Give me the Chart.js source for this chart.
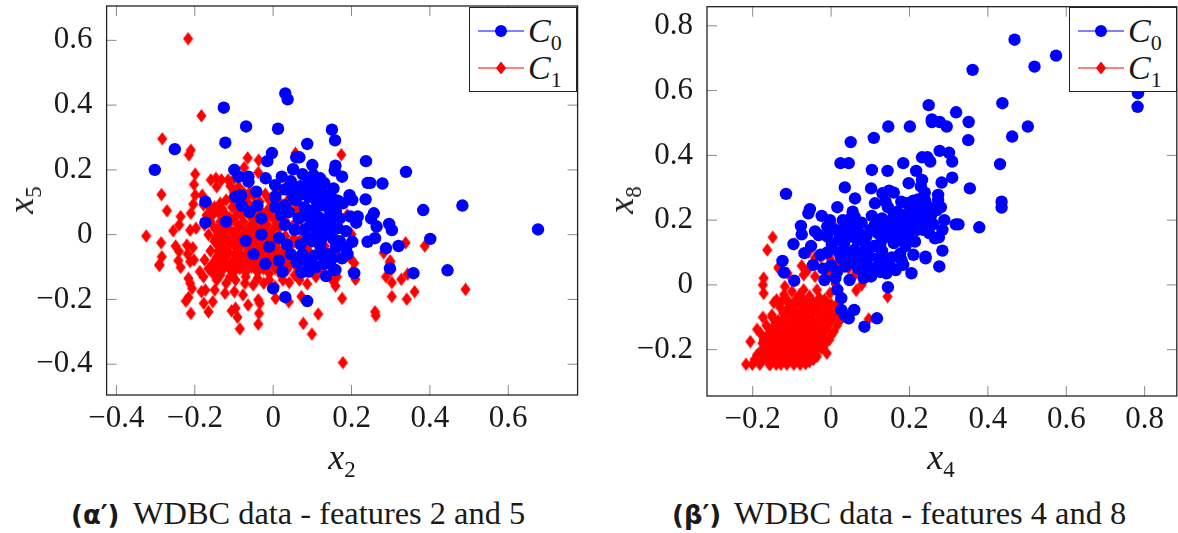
<!DOCTYPE html>
<html>
<head>
<meta charset="utf-8">
<title>WDBC scatter</title>
<script src="https://cdn.jsdelivr.net/npm/chart.js@4/dist/chart.umd.min.js"></script>
<style>
html, body { margin: 0; padding: 0; background: #fff; }
body { width: 1178px; height: 533px; position: relative; overflow: hidden; font-family: "Liberation Serif", serif; color: #1a1a1a; }
canvas { position: absolute; top: 0; }
#chartA { left: 0; }
#chartB { left: 590px; }
.axis-label { position: absolute; font-size: 36px; line-height: 36px; white-space: nowrap; }
.axis-label sub { font-size: 23px; line-height: 0; font-style: normal; }
.rot { transform: translate(-50%, -50%) rotate(-90deg); }
.hor { transform: translate(-50%, -50%); }
.legend { position: absolute; top: 7px; width: 108px; height: 85px; background: #fff; border: 1.3px solid #222; box-sizing: border-box; }
.legend .row { position: absolute; left: 0; height: 37px; font-size: 34px; line-height: 37px; white-space: nowrap; }
.legend svg { position: absolute; left: 8px; top: 0; }
.legend span { position: absolute; left: 58px; top: 0; }
.legend sub { font-size: 22px; line-height: 0; }
.caption { position: absolute; top: 497px; font-size: 32.4px; line-height: 32px; white-space: nowrap; }
.caption b { font-family: "DejaVu Sans", sans-serif; font-size: 26px; display: inline-block; width: 62px; }
</style>
</head>
<body>
<canvas id="chartA" width="590" height="445"></canvas>
<canvas id="chartB" width="588" height="445"></canvas>

<div class="axis-label rot" style="left:21px;top:200px"><i>x</i><sub>5</sub></div>
<div class="axis-label hor" style="left:342px;top:457px"><i>x</i><sub>2</sub></div>
<div class="axis-label rot" style="left:621px;top:200px"><i>x</i><sub>8</sub></div>
<div class="axis-label hor" style="left:941px;top:457px"><i>x</i><sub>4</sub></div>

<div class="legend" style="left:469px">
  <div class="row" style="top:4px"><svg width="46" height="37"><line x1="0" y1="19" x2="46" y2="19" stroke="#0000ff" stroke-width="1"/><circle cx="23" cy="19" r="6" fill="#0000ff"/></svg><span><i>C</i><sub>0</sub></span></div>
  <div class="row" style="top:41px"><svg width="46" height="37"><line x1="0" y1="19" x2="46" y2="19" stroke="#ff0000" stroke-width="1"/><polygon points="23,12.5 28,19 23,25.5 18,19" fill="#ff0000"/></svg><span><i>C</i><sub>1</sub></span></div>
</div>
<div class="legend" style="left:1069px">
  <div class="row" style="top:4px"><svg width="46" height="37"><line x1="0" y1="19" x2="46" y2="19" stroke="#0000ff" stroke-width="1"/><circle cx="23" cy="19" r="6" fill="#0000ff"/></svg><span><i>C</i><sub>0</sub></span></div>
  <div class="row" style="top:41px"><svg width="46" height="37"><line x1="0" y1="19" x2="46" y2="19" stroke="#ff0000" stroke-width="1"/><polygon points="23,12.5 28,19 23,25.5 18,19" fill="#ff0000"/></svg><span><i>C</i><sub>1</sub></span></div>
</div>

<div class="caption" style="left:71px"><b>(α′)</b>WDBC data - features 2 and 5</div>
<div class="caption" style="left:672px"><b>(β′)</b>WDBC data - features 4 and 8</div>

<script>
// Tick values for both panels
const ticksX2 = [-0.4, -0.2, 0, 0.2, 0.4, 0.6];
const ticksX5 = [-0.4, -0.2, 0, 0.2, 0.4, 0.6];
const ticksX4 = [-0.2, 0, 0.2, 0.4, 0.6, 0.8];
const ticksX8 = [-0.2, 0, 0.2, 0.4, 0.6, 0.8];

// Left panel, [x2, x5]
const c0Left = [
[-.302,.2],[-.251,.264],[-.126,.392],[-.122,.284],[-.069,.334],[.0125,.327],[.031,.436],[.037,.418],[.15,.324],[.158,.291],
[.087,.28],[-.003,.252],[-.015,.227],[.067,.239],[.059,.239],[.1,.215],[.051,.202],[-.099,.2],[.237,.227],[.339,.194],
[.159,.213],[.157,.198],[.176,.179],[.248,.16],[.241,.16],[.279,.158],[.383,.076],[.483,.09],[.676,.016],[.236,.109],
[.195,.122],[.202,.107],[.178,.097],[.154,.143],[.154,.109],[.12,.174],[.103,.184],[.075,.187],[.022,.179],[.005,.153],
[-.019,.174],[-.063,.179],[-.063,.164],[-.088,.179],[.125,.133],[.091,.117],[.109,.107],[.058,.107],[.005,.117],[-.043,.133],
[-.082,.122],[-.096,.117],[-.173,.102],[-.173,.037],[-.12,.04],[.216,.056],[.25,.05],[.257,.066],[.296,.033],[.303,.014],
[.264,.025],[.212,.037],[.197,.056],[.146,.066],[.144,.035],[.135,.009],[.186,.011],[.202,-.022],[.186,-.042],[.176,-.073],
[.241,-.022],[.26,-.011],[.288,-.042],[.32,-.035],[.401,-.013],[.154,-.014],[.13,-.088],[.159,-.109],[-.07,-.019],[-.01,-.037],
[.445,-.11],[.358,-.119],[.298,-.104],[.207,-.119],[.132,-.09],[.156,-.109],[.135,-.128],[0,-.166],[.031,-.193],[.087,-.205],
[.072,-.117],[.091,-.114],[.024,-.114],[.09,.16],[.07,.15],[.045,.165],[.03,.14],[.11,.15],[.13,.16],[.075,.125],
[.05,.12],[.12,.09],[.14,.085],[.1,.075],[.08,.085],[.16,.07],[.17,.05],[.13,.045],[.115,.055],[.095,.03],
[.065,.05],[.04,.07],[.02,.06],[.055,.015],[.03,.03],[.11,.015],[.09,-.01],[.07,-.03],[.12,-.035],[.14,-.06],
[.105,-.065],[.045,-.06],[.06,-.085],[.085,-.085],[.11,-.1],[.17,-.02],[.19,-.06],[.165,.02],[-.04,.09],[-.06,.07],
[-.03,.05],[-.08,.09],[.03,.09],[.005,.085],[-.05,-.06],[-.02,-.09],[.015,-.08],[.035,-.03],[.015,-.01],[-.03,.0],
[.14,.12],[.165,.105],[.13,.105],[.15,.09],[.1,.13],[.085,.14],[.115,.125],[.06,.14],[.16,.04],[.15,.02],
[.125,.02],[.125,-.01],[.16,-.04],[.15,-.075],[.125,-.065],[.1,.04],[.08,.06],[.08,.015],[.1,-.02],[.075,-.06]
];
const c1Left = [
[-.217,.605],[-.183,.367],[-.283,.296],[-.21,.261],[-.215,.246],[.057,.251],[-.065,.237],[-.074,.207],[-.037,.23],[-.038,.192],
[.174,.247],[.05,.156],[.03,.143],[.057,.126],[-.199,.187],[-.202,.155],[-.199,.122],[-.285,.124],[-.271,.074],[-.181,.122],
[-.204,.094],[-.21,.066],[-.236,.056],[-.24,.03],[-.255,.012],[-.324,-.004],[-.286,-.025],[-.249,-.035],[-.284,-.068],[-.24,-.052],
[-.212,.014],[-.197,.02],[-.22,-.032],[-.205,-.04],[-.218,-.06],[-.202,-.078],[-.175,-.078],[-.242,-.08],[-.291,-.094],[-.159,.169],
[-.146,.174],[-.132,.169],[-.115,.169],[-.099,.174],[-.144,.148],[-.109,.15],[-.088,.148],[-.178,.092],[-.135,.097],[-.12,.107],
[-.106,.112],[-.067,.117],[-.063,.097],[-.034,.102],[-.01,.107],[.019,.097],[.038,.107],[.058,.074],[.082,.074],[.072,.047],
[.096,.045],[.128,.047],[.109,.033],[.189,.061],[.048,.025],[.072,.014],[.106,-.006],[.031,-.004],[.053,-.011],[.089,-.035],
[.132,-.035],[.157,-.032],[.2,.001],[.267,.025],[.338,-.025],[.387,-.035],[.282,-.056],[.299,-.081],[.162,-.063],[.195,-.07],
[.207,-.088],[.298,-.086],[.301,-.109],[.288,-.13],[.303,-.148],[.327,-.138],[.343,-.122],[.303,-.191],[.361,-.176],[.341,-.199],
[.491,-.169],[.176,-.197],[.26,-.238],[.262,-.25],[.115,-.245],[.077,-.274],[.099,-.307],[.178,-.395],[.154,-.145],[.159,-.158],
[.163,-.13],[.202,-.114],[.21,-.138],[.006,-.197],[.04,-.207],[.072,-.191],[.041,-.148],[.067,-.14],[.087,-.152],[.109,-.13],
[-.038,-.276],[-.085,-.291],[-.091,-.255],[-.036,-.243],[-.106,-.235],[-.096,-.227],[-.064,-.217],[-.165,-.238],[-.21,-.243],[-.177,-.212],
[-.154,-.207],[-.223,-.205],[-.216,-.194],[-.038,-.201],[-.034,-.212],[-.077,-.186],[-.099,-.176],[-.123,-.181],[-.149,-.171],[-.183,-.176],
[-.173,-.171],[-.207,-.166],[-.216,-.135],[-.212,-.15],[-.29,-.094],[-.236,-.101],[-.212,-.083],[-.187,-.114],[-.178,-.13],[-.154,-.119],
[-.144,-.14],[-.12,-.15],[-.096,-.14],[-.072,-.15],[-.051,-.155],[-.024,-.15],[.005,-.16],[-.17,.06],[-.16,.04],[-.15,.02],
[-.165,.0],[-.15,-.02],[-.16,-.05],[-.145,-.07],[-.13,.08],[-.12,.06],[-.105,.085],[-.09,.07],[-.075,.09],[-.06,.06],
[-.045,.08],[-.03,.07],[-.015,.075],[0,.05],[.015,.06],[.03,.045],[-.135,.04],[-.12,.025],[-.105,.045],[-.09,.03],
[-.075,.04],[-.06,.025],[-.045,.035],[-.03,.02],[-.015,.03],[0,.015],[.015,.02],[-.135,.0],[-.12,-.01],[-.105,.005],
[-.09,-.005],[-.075,.005],[-.06,-.01],[-.045,.0],[-.03,-.015],[-.015,-.005],[0,-.02],[.015,-.015],[-.14,-.035],[-.125,-.045],
[-.11,-.03],[-.095,-.04],[-.08,-.03],[-.065,-.045],[-.05,-.03],[-.035,-.045],[-.02,-.035],[-.005,-.05],[.01,-.04],[.025,-.055],
[-.135,-.08],[-.12,-.07],[-.105,-.085],[-.09,-.07],[-.075,-.08],[-.06,-.07],[-.045,-.085],[-.03,-.07],[-.015,-.08],[0,-.07],
[.015,-.09],[.03,-.08],[.045,-.09],[-.13,-.11],[-.115,-.1],[-.1,-.115],[-.085,-.105],[-.07,-.115],[-.055,-.1],[-.04,-.115],
[-.025,-.105],[-.01,-.12],[.005,-.105],[.02,-.125],[.035,-.11],[.06,-.1],[.08,-.075],[.1,-.095],[.12,-.11],[.07,-.06],
[-.127,.068],[-.112,.052],[-.097,.055],[-.082,.06],[-.067,.072],[-.052,.05],[-.037,.055],[-.022,.045],[-.007,.06],[.008,.035],
[-.142,.018],[-.127,.012],[-.112,.018],[-.097,.012],[-.082,.015],[-.067,.012],[-.052,.015],[-.037,.008],[-.022,.012],[-.007,-.002],
[-.147,-.012],[-.132,-.02],[-.117,-.018],[-.102,-.022],[-.087,-.02],[-.072,-.022],[-.057,-.025],[-.042,-.025],[-.027,-.03],[-.012,-.025],
[.004,-.03],[-.128,-.06],[-.113,-.055],[-.098,-.06],[-.083,-.058],[-.068,-.062],[-.053,-.055],[-.038,-.06],[-.023,-.055],[-.008,-.062],
[.008,-.058],[-.122,-.092],[-.107,-.1],[-.092,-.09],[-.077,-.095],[-.062,-.088],[-.047,-.1],[-.032,-.09],[-.017,-.098],[-.002,-.09],
[.012,-.105],[.028,-.095],[.05,-.075],[.055,-.125],[.025,-.14],[-.01,-.14],[-.04,-.135],[-.07,-.13],[-.11,-.13],[-.135,-.125],
[.04,.09],[.06,.095],[.035,.07],[.1,.05],[.085,-.01],[.07,-.015],[.12,-.02],[.09,-.05],[.045,-.035],[.06,.04],
[-.168,.1],[-.162,.085],[-.175,.03],[-.165,.045],[-.118,.045],[-.125,.03],[-.1,.13],[-.09,.11],[-.075,.13],[-.06,.13],
[-.05,.12],[-.04,.13],[-.02,.125],[.0,.12],[.015,.13],[-.06,.16],[-.072,-.018],[-.062,-.025],[-.012,-.04],[-.005,-.032],
[-.095,.095],[-.14,.07],[-.15,.085],[-.155,.06],[-.14,-.05],[-.155,-.09],[-.145,-.1],[-.165,-.105]
];

// Right panel, [x4, x8]
const c0Right = [
[.468,.757],[.574,.708],[.519,.674],[.361,.664],[.783,.592],[.782,.55],[.437,.561],[.502,.489],[.462,.458],[.249,.555],
[.257,.511],[.257,.503],[.319,.533],[.351,.503],[.277,.503],[.295,.489],[.146,.489],[.201,.489],[.109,.454],[.05,.441],
[.35,.447],[.431,.373],[.435,.257],[.435,.239],[.354,.298],[.378,.178],[.309,.331],[.282,.316],[.309,.381],[.301,.408],
[.277,.414],[.253,.381],[.246,.394],[.232,.394],[.184,.376],[.144,.352],[.104,.355],[.024,.376],[.045,.376],[.035,.301],
[.102,.298],[.061,.267],[-.115,.281],[.217,.352],[.232,.324],[.198,.314],[.229,.304],[.239,.285],[.148,.291],[.131,.283],
[.16,.285],[.112,.252],[.139,.257],[.179,.257],[.193,.252],[.222,.264],[.273,.278],[.273,.262],[.246,.237],[.27,.231],
[.169,.226],[.104,.213],[.055,.226],[.016,.24],[-.054,.234],[-.058,.221],[-.024,.213],[-.003,.2],[.318,.187],[.325,.187],
[.289,.2],[.284,.17],[.265,.144],[.275,.147],[.284,.106],[.241,.087],[.21,.093],[.176,.096],[.276,.057],[.144,.195],
[.174,.2],[.198,.192],[.217,.19],[.241,.192],[.26,.188],[.112,.185],[.12,.159],[.141,.149],[.169,.159],[.198,.149],
[.214,.134],[.126,.129],[.16,.129],[.064,.185],[.035,.18],[.078,.192],[.069,.165],[.066,.139],[.033,.129],[.059,.108],
[.064,.087],[.002,.123],[-.077,.182],[-.075,.156],[-.041,.165],[-.032,.154],[-.051,.12],[-.096,.126],[-.068,.098],[-.027,.093],
[-.124,.074],[.098,.087],[.122,.085],[.141,.072],[.026,.082],[.035,.057],[.093,.057],[.069,.051],[.107,.051],[.141,.036],
[.165,.046],[.184,.062],[.205,.036],[.241,.082],[.102,.026],[.083,.021],[.047,.015],[.145,-.007],[.059,-.077],[.117,-.103],
[.085,-.129],[.045,-.103],[.026,-.041],[.016,-.015],[.011,.021],[-.017,.015],[-.046,.062],[-.094,.013],[-.12,.038],[.026,-.077],
[.035,-.093],[.2,.22],[.215,.235],[.235,.24],[.255,.215],[.225,.205],[.185,.215],[.15,.17],[.18,.17],[.13,.205],
[.05,.205],[.03,.2],[.01,.17],[-.01,.15],[-.02,.05],[.0,.06],[.015,.04],[.19,.12],[.13,.105],[.09,.15],
[.15,.06],[.12,.06],[.075,.075],[.05,.07],[.02,.1],[-.01,.1],[.03,.16],[.05,.15],[.24,.26],[.21,.26],
[.19,.19],[.23,.22],[.2,.17],[.155,.145],[.17,.14],[.25,.24],[.28,.24],[.16,.22],[.145,.24],[.06,.21],
[.09,.11],[.11,.12],[.085,.13],[.1,.17],[.08,.1],[.05,.09],[.08,.04],[.125,.04],[.155,.085],[.18,.075],
[.04,.1],[.02,.14],[.045,.16],[-.01,.18],[.19,.165],[.22,.17],[.235,.17],[.25,.16],[.16,.19],[.125,.18]
];
const c1Right = [
[.008,.181],[-.149,.147],[-.163,.108],[-.094,.126],[-.01,.144],[-.057,.103],[0,.11],[-.041,.084],[-.026,.085],[-.003,.082],
[.04,.067],[-.075,.059],[-.134,.051],[.011,.062],[.045,.051],[-.134,.055],[-.111,.036],[-.07,.031],[-.041,.026],[-.06,.046],
[-.003,.036],[.011,.003],[.057,.026],[.078,0],[.064,-.017],[.144,-.036],[.096,-.105],[-.172,.021],[-.174,0],[-.172,-.026],
[-.146,-.055],[-.139,-.046],[-.118,-.005],[-.07,-.015],[-.036,-.015],[-.003,-.026],[.016,-.057],[-.017,-.046],[.024,-.108],[.007,-.144],
[-.011,-.211],[-.036,-.221],[-.055,-.237],[-.079,-.245],[-.113,-.245],[-.128,-.245],[-.158,-.245],[-.182,-.245],[-.201,-.245],[-.217,-.245],
[-.206,-.175],[-.189,-.137],[-.174,-.1],[-.189,-.216],[-.151,-.093],[-.12,-.03],[-.11,-.05],[-.1,-.02],[-.09,-.045],[-.08,-.03],
[-.07,-.05],[-.055,-.035],[-.045,-.055],[-.03,-.04],[-.015,-.07],[0,-.06],[.012,-.08],[-.13,-.07],[-.115,-.08],[-.1,-.07],
[-.085,-.085],[-.07,-.075],[-.055,-.085],[-.04,-.075],[-.025,-.09],[-.01,-.085],[.005,-.1],[.02,-.09],[-.15,-.1],[-.135,-.11],
[-.12,-.1],[-.105,-.115],[-.09,-.1],[-.075,-.11],[-.06,-.1],[-.045,-.115],[-.03,-.105],[-.015,-.12],[0,-.11],[.015,-.125],
[-.165,-.125],[-.15,-.135],[-.135,-.13],[-.12,-.14],[-.105,-.13],[-.09,-.14],[-.075,-.13],[-.06,-.145],[-.045,-.135],[-.03,-.15],
[-.015,-.14],[.0,-.155],[-.18,-.15],[-.165,-.16],[-.15,-.155],[-.135,-.165],[-.12,-.155],[-.105,-.17],[-.09,-.16],[-.075,-.17],
[-.06,-.16],[-.045,-.175],[-.03,-.165],[-.015,-.18],[-.005,-.17],[-.175,-.18],[-.16,-.19],[-.145,-.18],[-.13,-.195],[-.115,-.185],
[-.1,-.195],[-.085,-.185],[-.07,-.2],[-.055,-.19],[-.04,-.205],[-.025,-.195],[-.18,-.205],[-.165,-.215],[-.15,-.21],[-.135,-.22],
[-.12,-.21],[-.105,-.225],[-.09,-.215],[-.075,-.225],[-.06,-.215],[-.045,-.23],[-.145,-.235],[-.125,-.235],[-.09,-.235],[-.065,-.235],
[-.127,-.052],[-.107,-.06],[-.092,-.058],[-.077,-.06],[-.062,-.062],[-.047,-.068],[-.032,-.06],[-.012,-.055],[-.122,-.088],[-.107,-.09],
[-.092,-.088],[-.077,-.092],[-.062,-.09],[-.047,-.092],[-.032,-.085],[-.017,-.1],[-.002,-.09],[-.142,-.118],[-.127,-.12],[-.112,-.125],
[-.097,-.118],[-.082,-.122],[-.067,-.12],[-.052,-.125],[-.037,-.125],[-.022,-.13],[-.007,-.125],[-.157,-.148],[-.142,-.148],[-.127,-.148],
[-.112,-.15],[-.097,-.15],[-.082,-.15],[-.067,-.155],[-.052,-.155],[-.037,-.158],[-.022,-.16],[-.172,-.17],[-.157,-.172],[-.142,-.168],
[-.127,-.175],[-.112,-.172],[-.097,-.178],[-.082,-.175],[-.067,-.18],[-.052,-.178],[-.037,-.185],[-.02,-.19],[-.17,-.2],[-.152,-.195],
[-.137,-.2],[-.122,-.2],[-.107,-.205],[-.092,-.2],[-.077,-.208],[-.062,-.205],[-.047,-.21],[-.16,-.23],[-.13,-.225],[-.115,-.228],
[-.1,-.23],[-.082,-.235],[-.052,-.225],[-.195,-.23],[-.175,-.232],[-.155,-.245],[-.14,-.245],[-.095,-.245],[-.065,-.243],[-.04,-.215]
];

function makeDiamond() {
    const c = document.createElement('canvas');
    c.width = 11;
    c.height = 14;
    const g = c.getContext('2d');
    g.fillStyle = '#ff0000';
    g.beginPath();
    g.moveTo(5.5, 0.3);
    g.lineTo(10.6, 7);
    g.lineTo(5.5, 13.7);
    g.lineTo(0.4, 7);
    g.closePath();
    g.fill();
    return c;
}

// pgfplots style box with short ticks pointing inward on all four sides
const boxPlugin = {
    id: 'box',
    afterDraw(chart) {
        const { ctx, chartArea: a, scales } = chart;
        ctx.save();
        ctx.strokeStyle = '#8a8a8a';
        ctx.lineWidth = 1;
        ctx.beginPath();
        scales.x.ticks.forEach(t => {
            const px = scales.x.getPixelForValue(t.value);
            ctx.moveTo(px, a.bottom);
            ctx.lineTo(px, a.bottom - 10);
            ctx.moveTo(px, a.top);
            ctx.lineTo(px, a.top + 10);
        });
        scales.y.ticks.forEach(t => {
            const py = scales.y.getPixelForValue(t.value);
            ctx.moveTo(a.left, py);
            ctx.lineTo(a.left + 10, py);
            ctx.moveTo(a.right, py);
            ctx.lineTo(a.right - 10, py);
        });
        ctx.stroke();
        ctx.strokeStyle = '#222';
        ctx.lineWidth = 1.3;
        ctx.strokeRect(a.left, a.top, a.right - a.left, a.bottom - a.top);
        ctx.restore();
    }
};

function tickText(v) {
    if (v === 0) return '0';
    return (v < 0 ? '\u2212' : '') + Math.abs(v).toFixed(1);
}

function scaleOpts(min, max, values, pad, fitFn) {
    return {
        type: 'linear',
        min: min,
        max: max,
        afterBuildTicks: (s) => { s.ticks = values.map(v => ({ value: v })); },
        afterFit: (s) => {
            fitFn(s);
            // tick label overhang must not push the plot area around
            s.paddingTop = 0;
            s.paddingBottom = 0;
            s.paddingLeft = 0;
            s.paddingRight = 0;
        },
        grid: { display: false },
        border: { display: false },
        ticks: {
            color: '#1a1a1a',
            padding: pad,
            maxRotation: 0,
            autoSkip: false,
            font: { family: 'Liberation Serif', size: 31 },
            callback: (v) => tickText(v)
        }
    };
}

function makeChart(id, c0, c1, opt) {
    return new Chart(document.getElementById(id), {
        type: 'scatter',
        data: {
            datasets: [{
                label: 'C0',
                data: c0.map(p => ({ x: p[0], y: p[1] })),
                backgroundColor: '#0000ff',
                pointStyle: 'circle',
                pointRadius: 6.2,
                pointBorderWidth: 0
            }, {
                label: 'C1',
                data: c1.map(p => ({ x: p[0], y: p[1] })),
                backgroundColor: '#ff0000',
                pointStyle: makeDiamond(),
                pointRadius: 5,
                pointBorderWidth: 0
            }]
        },
        options: {
            responsive: false,
            animation: false,
            layout: { autoPadding: false, padding: { top: opt.top, right: opt.right, left: 0, bottom: 0 } },
            plugins: { legend: { display: false }, tooltip: { enabled: false } },
            scales: {
                x: scaleOpts(opt.xMin, opt.xMax, opt.xTicks, -3, (s) => { s.height = opt.xHeight; }),
                y: scaleOpts(opt.yMin, opt.yMax, opt.yTicks, 6, (s) => { s.width = opt.yWidth; })
            }
        },
        plugins: [boxPlugin]
    });
}

makeChart('chartA', c0Left, c1Left, {
    xMin: -0.425, xMax: 0.777, yMin: -0.495, yMax: 0.706,
    xTicks: ticksX2, yTicks: ticksX5,
    top: 6, right: 12.4, yWidth: 106.6, xHeight: 50
});
makeChart('chartB', c0Right, c1Right, {
    xMin: -0.3166, xMax: 0.882, yMin: -0.343, yMax: 0.859,
    xTicks: ticksX4, yTicks: ticksX8,
    top: 6.7, right: 1.2, yWidth: 117, xHeight: 49
});
</script>
</body>
</html>
